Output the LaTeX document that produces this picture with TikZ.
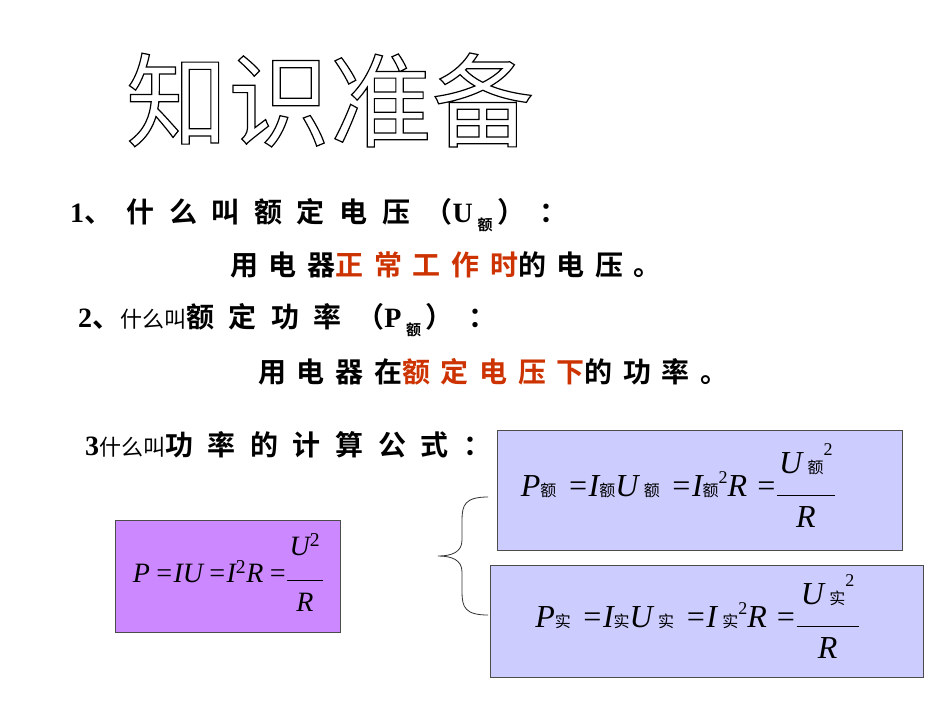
\documentclass[tikz,border=0pt]{standalone}
\usepackage{fontspec}
\setmainfont{Liberation Serif}
\newfontfamily\cjk{Noto Sans CJK SC}
\newfontfamily\cjkb[LetterSpace=38]{Noto Sans CJK SC Bold}
\newfontfamily\cjkw[LetterSpace=52]{Noto Sans CJK SC Bold}
\newfontfamily\cjkbt{Noto Sans CJK SC Bold}
\newfontfamily\serb[LetterSpace=52]{Liberation Serif Bold}
\newcommand{\sbx}[1]{{\fontsize{16}{16}\cjk #1}}
\definecolor{redt}{HTML}{CC3300}
\definecolor{boxa}{HTML}{CC88FF}
\definecolor{boxb}{HTML}{CCCCFF}
\begin{document}
\begin{tikzpicture}[x=1pt,y=-1pt,
  line/.style={font=\fontsize{28}{28}\selectfont, anchor=west, inner sep=0},
  fbox/.style={draw=black!70, line width=0.8pt}]
\useasboundingbox (0,0) rectangle (950,713);
\fill[white] (0,0) rectangle (950,713);
\node[inner sep=0] (title) at (330,100) {\fontsize{102}{102}\cjk\special{pdf:literal direct 1 Tr 1.2 w}知识准备\special{pdf:literal direct 0 Tr}};
\node[line] (l1) at (70,215) {\serb 1\cjkw、什么叫额定电压（\serb U\,\raisebox{-8pt}{\fontsize{15}{15}\cjkbt 额}\cjkw\,）：};
\node[line] (l2) at (230,265) {\cjkb 用电器\textcolor{redt}{正常工作时}的电压。};
\node[line] (l3) at (78,320) {\serb 2\cjkw、{\fontsize{22}{22}\cjk 什么叫}额定功率（\serb P\,\raisebox{-8pt}{\fontsize{15}{15}\cjkbt 额}\cjkw\,）：};
\node[line] (l4) at (258,372) {\cjkb 用电器在\textcolor{redt}{额定电压下}的功率。};
\node[line] (l5) at (85,445) {\serb 3{\fontsize{22}{22}\cjk 什么叫}\cjkw 功率的计算公式：};
\node[fbox, fill=boxa, minimum width=225, minimum height=112, anchor=north west] (b0) at (115,520) {};
\node[inner sep=0] at (b0.center) {\fontsize{28}{28}\selectfont\itshape P\,=IU\,=I\textsuperscript{\upshape 2}R\,=$\vcenter{\hbox{\begin{tabular}{@{}c@{}}U\textsuperscript{\upshape 2}\\[-2pt]\rule{36pt}{0.8pt}\\[2pt]R\end{tabular}}}$};
\node[fbox, fill=boxb, minimum width=405, minimum height=120, anchor=north west] (b1) at (497,430) {};
\node[inner sep=0] at ([xshift=-22]b1.center) {\fontsize{32}{32}\selectfont\itshape P\sbx{额}\,\,=I\sbx{额}U\,\sbx{额}\,\,=I\sbx{额}\raisebox{13pt}{\upshape\fontsize{18}{18}\selectfont 2}R =$\vcenter{\hbox{\begin{tabular}{@{}c@{}}U\,\sbx{额}\raisebox{18pt}{\upshape\fontsize{18}{18}\selectfont 2}\\[-10pt]\rule{58pt}{0.8pt}\\[0pt]R\end{tabular}}}$};
\node[fbox, fill=boxb, minimum width=433, minimum height=112, anchor=north west] (b2) at (490,565) {};
\node[inner sep=0] at ([xshift=-10]b2.center) {\fontsize{32}{32}\selectfont\itshape P\sbx{实}\,\,=I\sbx{实}U\,\sbx{实}\,\,=I\,\sbx{实}\raisebox{13pt}{\upshape\fontsize{18}{18}\selectfont 2}R =$\vcenter{\hbox{\begin{tabular}{@{}c@{}}U\,\sbx{实}\raisebox{18pt}{\upshape\fontsize{18}{18}\selectfont 2}\\[-10pt]\rule{62pt}{0.8pt}\\[0pt]R\end{tabular}}}$};
\coordinate (bt) at (488,497);
\coordinate (bb) at (488,615);
\draw[black!80, line width=0.8pt] (bt) .. controls (465,497) and (462,505) .. (462,520) -- (462,540) .. controls (462,552) and (452,556) .. (438,556)
  .. controls (452,556) and (462,560) .. (462,572) -- (462,592) .. controls (462,607) and (465,615) .. (bb);
\end{tikzpicture}
\end{document}
